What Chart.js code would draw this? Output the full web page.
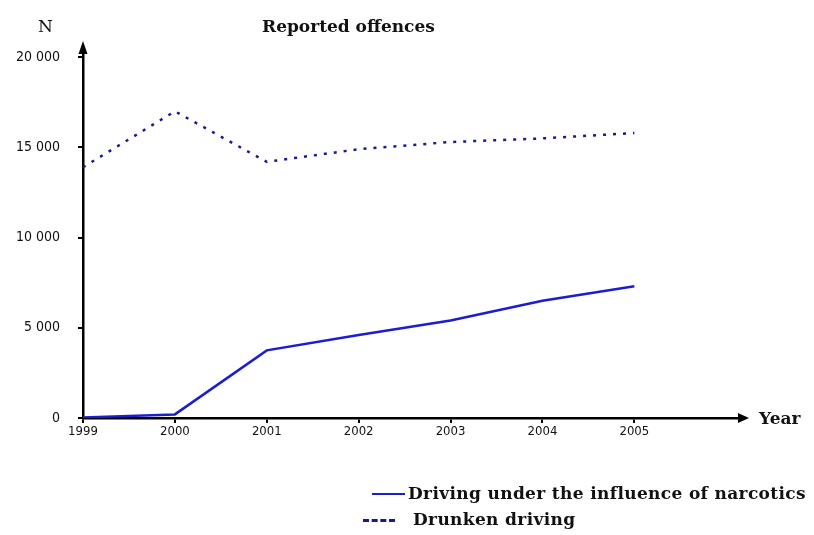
<!DOCTYPE html>
<html>
<head>
<meta charset="utf-8">
<script src="https://cdn.jsdelivr.net/npm/chart.js@4"></script>
<style>
  body { margin: 0; background: #fff; }
  #wrap { position: relative; width: 814px; height: 535px; }
  canvas { position: absolute; left: 0; top: 0; }
  .lbl { position: absolute; font-family: "DejaVu Serif", serif; font-weight: bold; font-size: 17px; color: #111; white-space: nowrap; line-height: 20px; }
  .leg { letter-spacing: 0.35px; }
  .swatch { position: absolute; height: 0; }
</style>
</head>
<body>
<div id="wrap">
  <canvas id="grafico" width="814" height="535"></canvas>
  <div class="lbl" style="left:262px; top:16px;">Reported offences</div>
  <div class="lbl" style="left:38px; top:16px; font-weight:normal; font-size:17px;">N</div>
  <div class="lbl" style="left:759px; top:408px;">Year</div>
  <div class="swatch" style="left:372px; top:493px; width:33px; border-top:2.5px solid #1c1cd0;"></div>
  <div class="lbl leg" style="left:408px; top:483px;">Driving under the influence of narcotics</div>
  <div class="swatch" style="left:363px; top:519px; width:32px; border-top:3px dashed #1a1a90;"></div>
  <div class="lbl leg" style="left:413px; top:509px;">Drunken driving</div>
</div>
<script>
// Datos
const years = [1999, 2000, 2001, 2002, 2003, 2004, 2005];
const narcoticos = [30, 200, 3750, 4600, 5400, 6500, 7300];
const alcohol = [13900, 17000, 14200, 14900, 15300, 15500, 15800];
const yTicks = [0, 5000, 10000, 15000, 20000];

const fmt = v => String(v).replace(/\B(?=(\d{3})+(?!\d))/g, ' ');

// Flechas al final de los ejes
const flechas = {
    id: 'flechas',
    afterDraw(chart) {
        const ctx = chart.ctx;
        const a = chart.chartArea;
        ctx.save();
        ctx.fillStyle = '#000';
        ctx.beginPath();
        ctx.moveTo(a.right + 9, a.bottom);
        ctx.lineTo(a.right - 2, a.bottom - 5);
        ctx.lineTo(a.right - 2, a.bottom + 5);
        ctx.closePath();
        ctx.fill();
        ctx.beginPath();
        ctx.moveTo(a.left, a.top - 9);
        ctx.lineTo(a.left - 4.5, a.top + 4);
        ctx.lineTo(a.left + 4.5, a.top + 4);
        ctx.closePath();
        ctx.fill();
        ctx.restore();
    }
};

const ctx = document.getElementById('grafico').getContext('2d');
new Chart(ctx, {
    type: 'line',
    data: {
        datasets: [{
            label: 'Driving under the influence of narcotics',
            data: years.map((y, i) => ({ x: y, y: narcoticos[i] })),
            borderColor: '#1c1cd0',
            borderWidth: 2.5,
            pointRadius: 0,
            tension: 0
        }, {
            label: 'Drunken driving',
            data: years.map((y, i) => ({ x: y, y: alcohol[i] })),
            borderColor: '#1a1a90',
            borderWidth: 2.5,
            borderDash: [3, 7],
            pointRadius: 0,
            tension: 0
        }]
    },
    options: {
        responsive: false,
        animation: false,
        layout: { padding: { top: 50, right: 74, left: 0, bottom: 0 } },
        plugins: {
            legend: { display: false },
            tooltip: { enabled: false }
        },
        scales: {
            x: {
                type: 'linear',
                min: 1999,
                max: 2006.15,
                afterBuildTicks: s => { s.ticks = years.map(v => ({ value: v })); },
                afterFit: s => { s.height = 117; },
                border: { display: true, color: '#000', width: 2.5 },
                grid: { drawOnChartArea: false, color: '#000', lineWidth: 2, tickLength: 5 },
                ticks: {
                    color: '#111',
                    padding: 1,
                    maxRotation: 0,
                    font: { family: '"Liberation Sans Narrow", "DejaVu Sans Condensed", sans-serif', size: 13 },
                    callback: v => String(v)
                }
            },
            y: {
                min: 0,
                max: 20400,
                afterBuildTicks: s => { s.ticks = yTicks.map(v => ({ value: v })); },
                afterFit: s => { s.width = 83; },
                border: { display: true, color: '#000', width: 2.5 },
                grid: { drawOnChartArea: false, color: '#000', lineWidth: 2, tickLength: 5 },
                ticks: {
                    color: '#111',
                    padding: 18,
                    font: { family: '"Liberation Sans Narrow", "DejaVu Sans Condensed", sans-serif', size: 14 },
                    callback: v => fmt(v)
                }
            }
        }
    },
    plugins: [flechas]
});
</script>
</body>
</html>
